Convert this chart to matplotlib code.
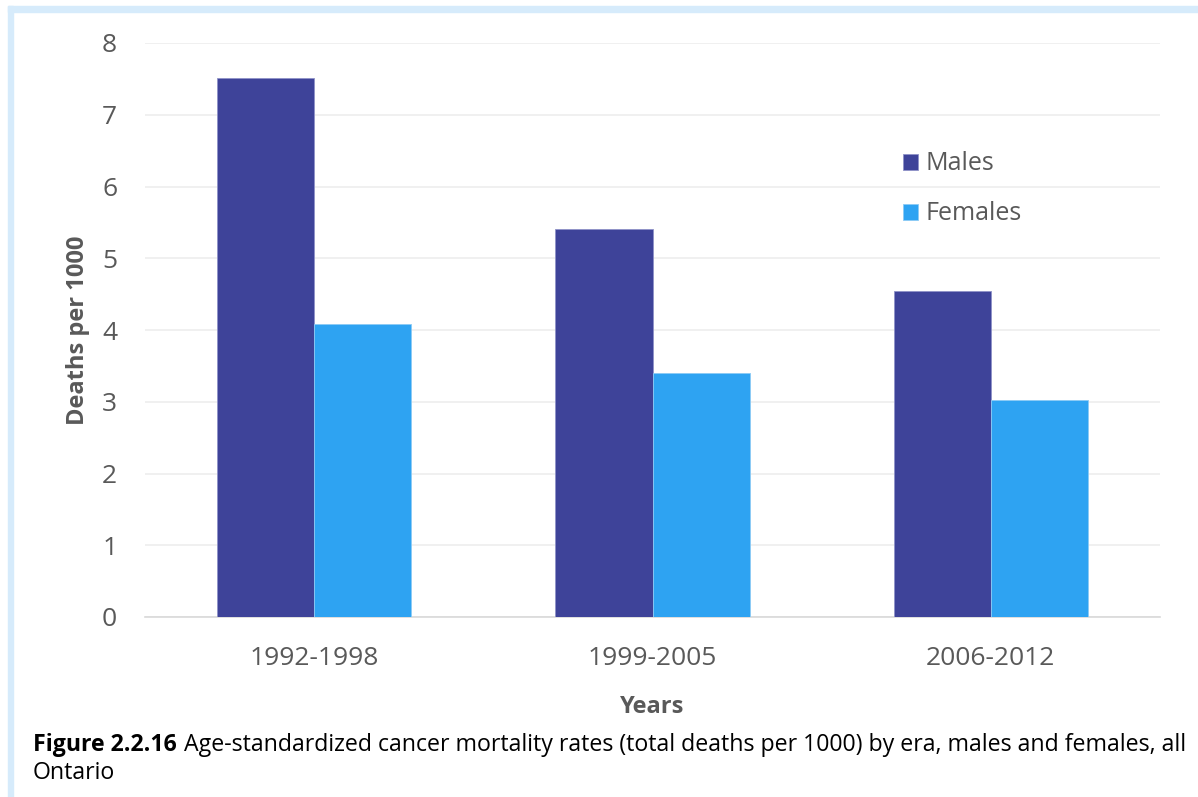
import matplotlib.pyplot as plt
import numpy as np
from matplotlib.patches import Rectangle

plt.rcParams['font.family'] = ['Open Sans', 'DejaVu Sans']

# data
periods = ['1992-1998', '1999-2005', '2006-2012']
males = [7.51, 5.41, 4.55]
females = [4.08, 3.40, 3.02]
y_ticks = [0, 1, 2, 3, 4, 5, 6, 7, 8]

MALE_COLOR = '#3E4399'
FEMALE_COLOR = '#2EA3F2'
TEXT_GRAY = '#595959'
W, H = 1198, 797

fig = plt.figure(figsize=(W / 100, H / 100), dpi=100, facecolor='white')

# light blue frame strips (left and top)
fig.patches.append(Rectangle((8 / W, 0), 5 / W, 1 - 6 / H,
                             transform=fig.transFigure, color='#D6EBFB', zorder=0))
fig.patches.append(Rectangle((8 / W, 1 - 12 / H), 1 - 8 / W, 6 / H,
                             transform=fig.transFigure, color='#D6EBFB', zorder=0))

ax = fig.add_axes([145 / W, 1 - 617 / H, 1015 / W, 574 / H])

x = np.arange(len(periods))
w = 0.287
ax.bar(x - w / 2, males, w, color=MALE_COLOR, edgecolor='#8F92C8', linewidth=0.6,
       label='Males', zorder=3)
ax.bar(x + w / 2, females, w, color=FEMALE_COLOR, edgecolor='#8CCBF5', linewidth=0.6,
       label='Females', zorder=3)

ax.set_xlim(-0.5, len(periods) - 0.5)
ax.set_ylim(0, 8)
ax.set_yticks(y_ticks)
ax.set_xticks(x)
ax.set_xticklabels(periods)
ax.grid(axis='y', color='#EDEDED', linewidth=1.2, zorder=0)
ax.set_axisbelow(True)
for s in ['top', 'right', 'left']:
    ax.spines[s].set_visible(False)
ax.spines['bottom'].set_color('#D9D9D9')
ax.spines['bottom'].set_linewidth(1.2)
ax.tick_params(axis='both', length=0, labelsize=19, labelcolor=TEXT_GRAY)
ax.tick_params(axis='x', pad=21)
ax.tick_params(axis='y', pad=20)

ax.set_ylabel('Deaths per 1000', fontsize=17, fontweight='bold', color=TEXT_GRAY, labelpad=9)
ax.set_xlabel('Years', fontsize=17, fontweight='bold', color=TEXT_GRAY, labelpad=17)

leg = ax.legend(loc='upper left', bbox_to_anchor=(890 / W, 1 - 139 / H),
                bbox_transform=fig.transFigure, frameon=False, fontsize=18,
                handlelength=0.6, handleheight=0.6, handletextpad=0.3,
                labelspacing=1.0, borderpad=0)
for t in leg.get_texts():
    t.set_color(TEXT_GRAY)

# caption: bold label, then normal text stretched to the right edge
cap_size = 13
t1 = fig.text(33 / W, 1 - 745 / H, 'Figure 2.2.16', fontsize=cap_size,
              fontweight='bold', va='center')
t2 = fig.text(0, 1 - 745 / H,
              'Age-standardized cancer mortality rates (total deaths per 1000) by era, males and females, all',
              fontsize=cap_size, va='center')
t3 = fig.text(33 / W, 1 - 773 / H, 'Ontario', fontsize=cap_size, va='center')
fig.canvas.draw()
r = fig.canvas.get_renderer()
total = t1.get_window_extent(r).width + 6 + t2.get_window_extent(r).width
scale = (1183 - 33) / total
new_size = cap_size * scale
for t in (t1, t2, t3):
    t.set_fontsize(new_size)
fig.canvas.draw()
bb = t1.get_window_extent(r)
t2.set_x((bb.x1 + 6 * scale) / W)

fig.savefig('out.png', dpi=100, facecolor='white')
